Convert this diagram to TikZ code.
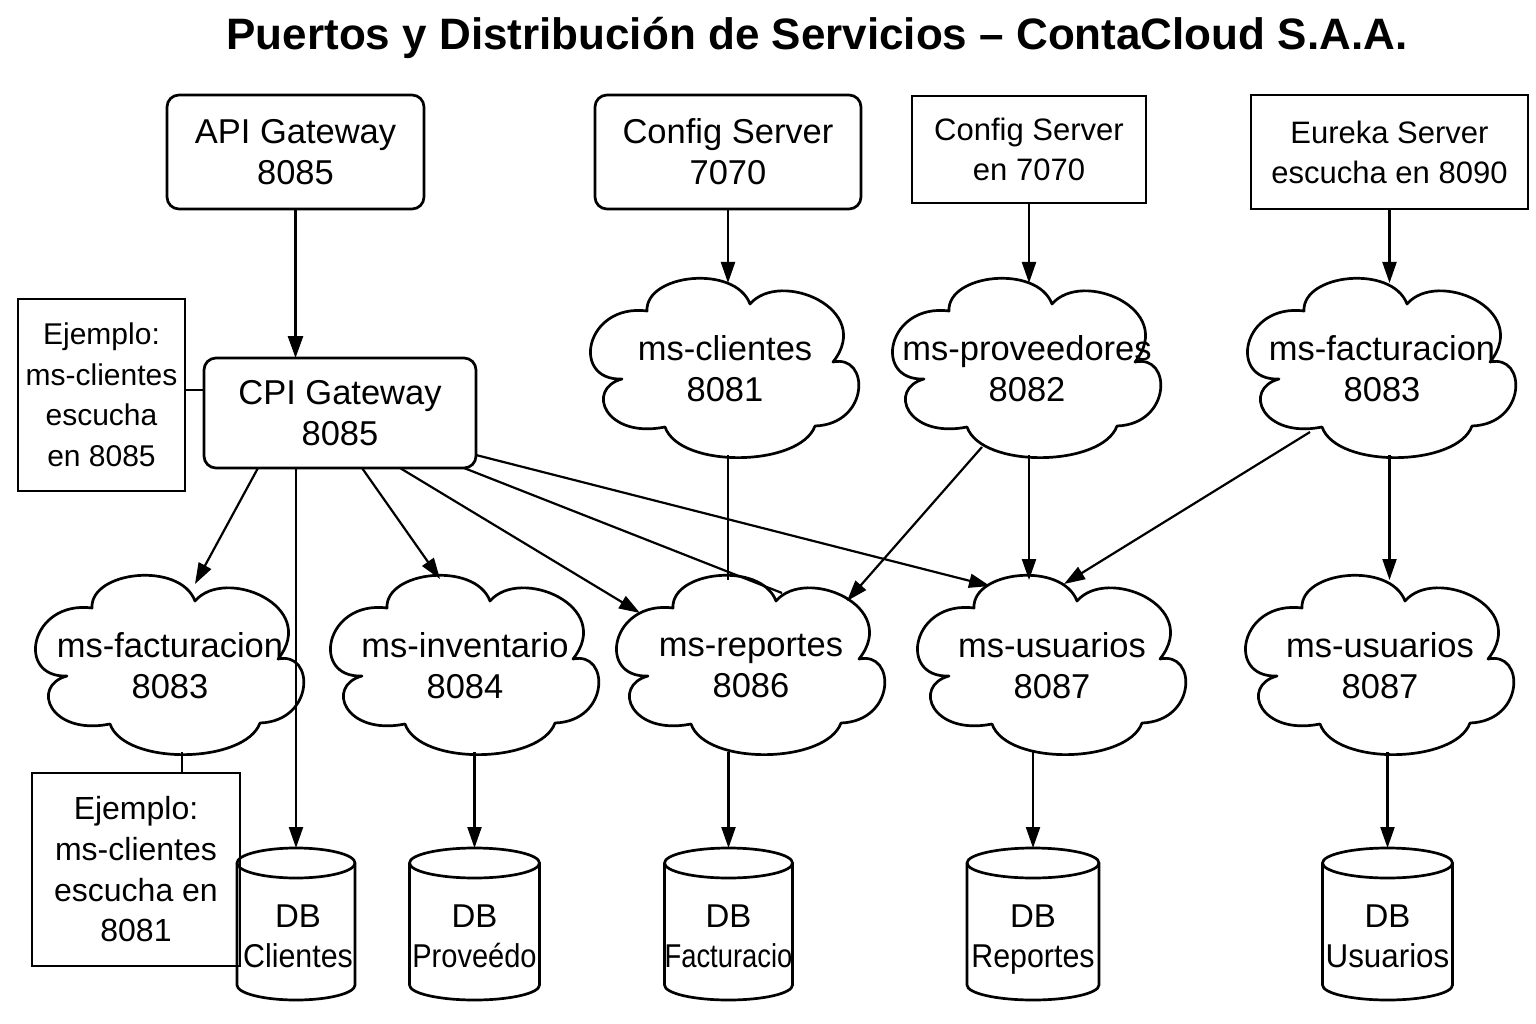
\documentclass[tikz,border=0pt]{standalone}
\usepackage{fontspec}
\usepackage{graphicx}
\setmainfont{Liberation Sans}
\usetikzlibrary{arrows.meta,calc}
\newcommand{\dbcyl}[2]{%
  \begin{scope}[shift={(#1)}]
    \draw[cline] (-#2,-61) -- (-#2,61) arc[start angle=180,end angle=0,x radius=#2,y radius=15] -- (#2,-61) arc[start angle=0,end angle=-180,x radius=#2,y radius=15] -- cycle;
    \draw[cline] (-#2,-61) arc[start angle=180,end angle=0,x radius=#2,y radius=15];
  \end{scope}}
\begin{document}
\begin{tikzpicture}[x=1pt,y=-1pt,
  every node/.style={inner sep=0pt, outer sep=0pt, align=center},
  big/.style={font=\fontsize{34.5}{41}\selectfont},
  mid/.style={font=\fontsize{31}{40}\selectfont},
  rbox/.style={big, draw, line width=2.7pt, rounded corners=12pt},
  sbox/.style={mid, draw, line width=2.1pt},
  cloudnode/.style={big, minimum width=270pt, minimum height=172pt},
  cylnode/.style={minimum width=122pt, minimum height=152pt},
  dbtext/.style={font=\fontsize{33}{40}\selectfont, text depth=0pt},
  cline/.style={line width=2.7pt, line join=round},
  arr/.style={line width=2.2pt, -{Triangle[length=21pt,width=14pt]}},
  pl/.style={line width=2.2pt},
  cloudpic/.pic={
    \draw[cline] (-103,10) .. controls (-155,12) and (-140,-66) .. (-78,-58)
      .. controls (-80,-95) and (10,-105) .. (25,-65)
      .. controls (55,-100) and (150,-60) .. (108,-7)
      .. controls (145,-15) and (145,55) .. (90,57)
      .. controls (75,98) and (-45,100) .. (-60,58)
      .. controls (-120,70) and (-140,20) .. (-103,10) -- cycle;
  }
]
\fill[white] (0,0) rectangle (1536,1024);
\useasboundingbox (0,0) rectangle (1536,1024);

% title
\node[font=\fontsize{44}{50}\selectfont\bfseries, anchor=base] (title) at (817,50) {Puertos y Distribución de Servicios – ContaCloud S.A.A.};

% top boxes
\node[rbox, minimum width=257pt, minimum height=114pt] (api) at (295.5,152) {API Gateway\\8085};
\node[rbox, minimum width=266pt, minimum height=114pt] (cfg1) at (728,152) {Config Server\\7070};
\node[sbox, minimum width=234pt, minimum height=107pt] (cfg2) at (1029,149.5) {Config Server\\en 7070};
\node[sbox, minimum width=277pt, minimum height=114pt] (eur) at (1389.5,152) {Eureka Server\\escucha en 8090};

% example box and CPI gateway
\node[sbox, font=\fontsize{30}{40.5}\selectfont, minimum width=167pt, minimum height=192pt] (ej1) at (101.5,395) {Ejemplo:\\ms-clientes\\escucha\\en 8085};
\node[rbox, minimum width=272pt, minimum height=110pt] (cpi) at (340,413) {CPI Gateway\\8085};

% top clouds
\node[cloudnode] (cliC) at (725,369) {ms-clientes\\8081};
\node[cloudnode] (proC) at (1027,369) {ms-proveedores\\8082};
\node[cloudnode] (facC) at (1382,369) {ms-facturacion\\8083};
\pic at (cliC) {cloudpic};
\pic at (proC) {cloudpic};
\pic at (facC) {cloudpic};

% bottom clouds
\node[cloudnode] (facB) at (170,666) {ms-facturacion\\8083};
\node[cloudnode] (invC) at (465,666) {ms-inventario\\8084};
\node[cloudnode] (repC) at (751,666) {ms-reportes\\8086};
\node[cloudnode] (usuM) at (1052,666) {ms-usuarios\\8087};
\node[cloudnode] (usuR) at (1380,666) {ms-usuarios\\8087};
\pic at (facB) {cloudpic};
\pic at (invC) {cloudpic};
\pic at (repC) {cloudpic};
\pic at (usuM) {cloudpic};
\pic at (usuR) {cloudpic};

% second example box
\node[sbox, font=\fontsize{32}{40.7}\selectfont, minimum width=208pt, minimum height=193pt] (ej2) at (136,869.5) {Ejemplo:\\ms-clientes\\escucha en\\8081};

% databases
\node[cylnode] (dbCli) at (296,924) {};
\node[cylnode] (dbPro) at (474.5,924) {};
\node[cylnode] (dbFac) at (728.5,924) {};
\node[cylnode] (dbRep) at (1033,924) {};
\node[cylnode] (dbUsu) at (1387.5,924) {};
\dbcyl{dbCli}{59}
\dbcyl{dbPro}{65}
\dbcyl{dbFac}{64}
\dbcyl{dbRep}{66}
\dbcyl{dbUsu}{65}
\node[dbtext] (dbCliT) at ($(dbCli)+(2,12)$) {DB\\\scalebox{0.92}[1]{Clientes}};
\node[dbtext] (dbProT) at ($(dbPro)+(0,12)$) {DB\\\scalebox{0.88}[1]{Proveédo}};
\node[dbtext] (dbFacT) at ($(dbFac)+(0,12)$) {DB\\\scalebox{0.83}[1]{Facturacio}};
\node[dbtext] (dbRepT) at ($(dbRep)+(0,12)$) {DB\\\scalebox{0.92}[1]{Reportes}};
\node[dbtext] (dbUsuT) at ($(dbUsu)+(0,12)$) {DB\\\scalebox{0.95}[1]{Usuarios}};

% connectors
\draw[line width=2.7pt, -{Triangle[length=22pt,width=15pt]}] (api.south) -- (api.south |- cpi.north);
\draw[arr] (cfg1.south) -- (cfg1.south |- cliC.north);
\draw[arr] (cfg2.south) -- (cfg2.south |- proC.north);
\draw[arr] (eur.south) -- (eur.south |- facC.north);
\draw[pl] ($(ej1.east)+(0,-5)$) coordinate (e1) -- (e1 -| cpi.west);

\draw[arr] ($(cpi.south)+(-82,0)$) -- ($(facB)+(25,-82)$);
\draw[arr] (cpi.south -| dbCli.north) -- (dbCli.north);
\draw[arr] ($(cpi.south)+(22,0)$) -- ($(invC)+(-25,-87)$);
\draw[arr] ($(cpi.south)+(60,0)$) -- ($(repC)+(-111,-53)$);
\draw[pl] ($(cpi.south)+(124,0)$) -- ($(repC)+(31,-73)$);
\draw[arr] ($(cpi.east)+(0,42)$) -- ($(usuM)+(-62,-80)$);

\draw[pl] (cfg1.south |- cliC.south) -- (cfg1.south |- repC.north);
\draw[arr] ($(proC)+(-45,78)$) -- ($(repC)+(96,-65)$);
\draw[arr] (cfg2.south |- proC.south) -- (cfg2.south |- usuM.north);
\draw[arr] ($(facC)+(-72,63)$) -- ($(usuM)+(12,-82)$);
\draw[arr] (eur.south |- facC.south) -- (eur.south |- usuR.north);

\draw[pl] ($(facB.south)+(12,0)$) coordinate (fb) -- (fb |- ej2.north);
\draw[arr] (invC.south -| dbPro.north) -- (dbPro.north);
\draw[arr] (repC.south -| dbFac.north) -- (dbFac.north);
\draw[arr] (usuM.south -| dbRep.north) -- (dbRep.north);
\draw[arr] (usuR.south -| dbUsu.north) -- (dbUsu.north);
\end{tikzpicture}
\end{document}
